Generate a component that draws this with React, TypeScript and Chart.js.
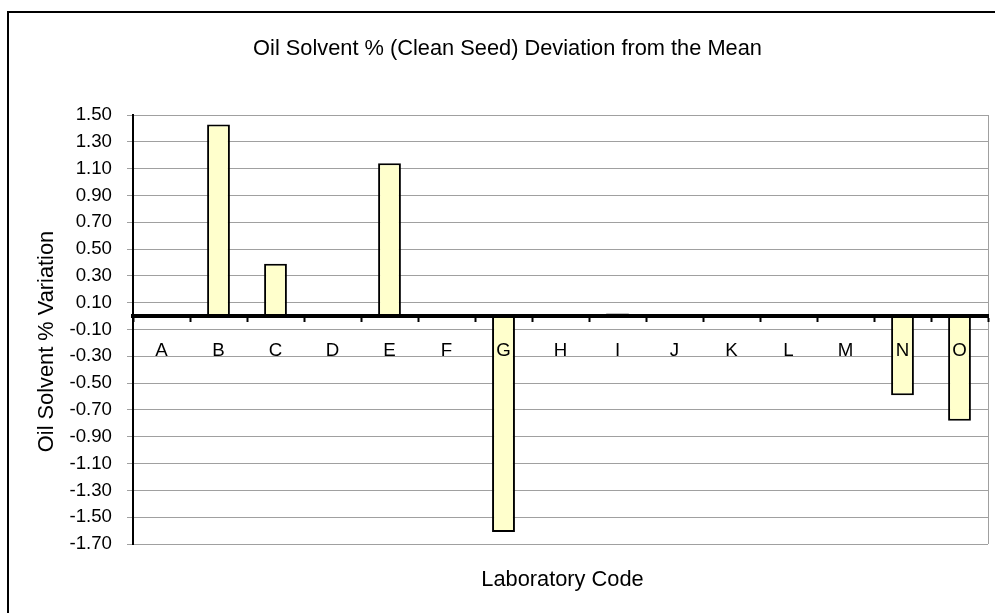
import React, { useEffect, useRef } from "react";
import { Chart, registerables } from "chart.js";

Chart.register(...registerables);

const labCodes = ["A", "B", "C", "D", "E", "F", "G", "H", "I", "J", "K", "L", "M", "N", "O"];
const deviations = [0, 1.43, 0.39, 0, 1.14, 0, -1.61, 0, 0.02, 0, 0, 0, 0, -0.59, -0.78];
const yTickValues = [1.5, 1.3, 1.1, 0.9, 0.7, 0.5, 0.3, 0.1, -0.1, -0.3, -0.5, -0.7, -0.9, -1.1, -1.3, -1.5, -1.7];
const chartTitle = "Oil Solvent % (Clean Seed) Deviation from the Mean";
const xTitle = "Laboratory Code";
const yTitle = "Oil Solvent % Variation";

const FONT = "'Liberation Sans', Arial, sans-serif";
const TITLE_SIZE = 21.8;
const TICK_SIZE = 18.7;

const framePlugin = {
  id: "frame",
  beforeDraw(chart: any) {
    const ctx = chart.ctx;
    ctx.save();
    ctx.fillStyle = "#ffffff";
    ctx.fillRect(0, 0, chart.width, chart.height);
    ctx.strokeStyle = "#000000";
    ctx.lineWidth = 2;
    ctx.beginPath();
    ctx.moveTo(8, chart.height + 5);
    ctx.lineTo(8, 12);
    ctx.lineTo(chart.width + 5, 12);
    ctx.stroke();
    ctx.restore();
  },
  beforeDatasetsDraw(chart: any) {
    const { ctx, chartArea } = chart;
    ctx.save();
    ctx.strokeStyle = "#a0a0a0";
    ctx.lineWidth = 1;
    ctx.beginPath();
    ctx.moveTo(chartArea.right + 0.5, chartArea.top);
    ctx.lineTo(chartArea.right + 0.5, chartArea.bottom);
    ctx.stroke();
    ctx.restore();
  },
  afterDraw(chart: any) {
    const { ctx, chartArea } = chart;
    ctx.save();
    ctx.fillStyle = "#000000";
    ctx.font = `${TITLE_SIZE}px ${FONT}`;
    ctx.textAlign = "center";
    ctx.textBaseline = "alphabetic";
    ctx.fillText(chartTitle, 507.5, 55);
    ctx.fillText(xTitle, (chartArea.left + chartArea.right) / 2 + 2, 586);
    ctx.translate(53, (chartArea.top + chartArea.bottom) / 2 + 12);
    ctx.rotate(-Math.PI / 2);
    ctx.fillText(yTitle, 0, 0);
    ctx.restore();
  },
};

export default function App() {
  const ref = useRef<HTMLCanvasElement>(null);
  useEffect(() => {
    if (!ref.current) return;
    const chart = new Chart(ref.current, {
      type: "bar",
      data: {
        labels: labCodes,
        datasets: [
          {
            data: deviations,
            backgroundColor: "#FFFFCC",
            borderColor: "#000000",
            borderWidth: 2,
            borderSkipped: false,
            categoryPercentage: 1,
            barPercentage: 0.4,
          },
        ],
      },
      options: {
        responsive: false,
        animation: false,
        layout: { padding: { left: 0, right: 7, top: 115, bottom: 69 } },
        plugins: {
          legend: { display: false },
          tooltip: { enabled: false },
          title: { display: false },
        },
        scales: {
          x: {
            position: { y: 0 },
            offset: true,
            grid: {
              display: true,
              offset: true,
              drawOnChartArea: false,
              drawTicks: true,
              tickLength: 4,
              tickColor: "#000",
              tickWidth: 2,
              z: 1,
            },
            border: { display: true, color: "#000", width: 4, z: 1 },
            ticks: {
              color: "#000",
              font: { family: FONT, size: TICK_SIZE },
              padding: 20,
              maxRotation: 0,
              autoSkip: false,
              z: 2,
            },
          },
          y: {
            min: -1.7,
            max: 1.5,
            afterBuildTicks: (s: any) => {
              s.ticks = yTickValues.map((v) => ({ value: v }));
            },
            afterFit: (s: any) => {
              s.width = 133;
            },
            grid: {
              color: "#a0a0a0",
              lineWidth: 1,
              drawTicks: true,
              tickLength: 6,
              tickColor: "#a0a0a0",
            },
            border: { display: true, color: "#000", width: 2 },
            ticks: {
              color: "#000",
              font: { family: FONT, size: TICK_SIZE },
              padding: 15,
              callback: (v: any) => Number(v).toFixed(2),
            },
            title: { display: false },
          },
        },
      },
      plugins: [framePlugin],
    });
    return () => chart.destroy();
  }, []);
  return (
    <div style={{ position: "fixed", left: 0, top: 0, width: 995, height: 613 }}>
      <canvas ref={ref} width={995} height={613} />
    </div>
  );
}
